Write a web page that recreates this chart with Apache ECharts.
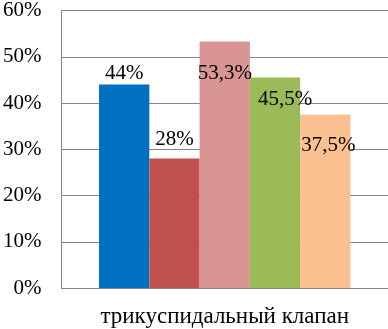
<!DOCTYPE html>
<html><head><meta charset="utf-8">
<script src="https://cdn.jsdelivr.net/npm/echarts@6/dist/echarts.min.js"></script>
<style>html,body{margin:0;padding:0;background:#fff}#c{width:388px;height:329px}</style>
</head><body><div id="c"></div>
<script>
var categories = ['трикуспидальный клапан'];
var values = [44, 28, 53.3, 45.5, 37.5];
var labelTexts = ['44%', '28%', '53,3%', '45,5%', '37,5%'];
var colors = ['#0070C0', '#C0504D', '#D99594', '#9BBB59', '#FAC090'];
var labelOffsets = [[0, 0], [0, -8], [0, 43], [10, 33], [3, 42]];
var yTicks = [0, 10, 20, 30, 40, 50, 60];

var font = '"Liberation Serif", "Times New Roman", serif';
var series = values.map(function (v, i) {
  return {
    type: 'bar',
    name: labelTexts[i],
    data: [v],
    barGap: '0%',
    barCategoryGap: '23%',
    itemStyle: { color: colors[i] },
    label: {
      show: true, position: 'top', distance: 0,
      offset: labelOffsets[i],
      formatter: labelTexts[i],
      fontFamily: font, fontSize: 21, lineHeight: 22, color: '#000'
    }
  };
});
var chart = echarts.init(document.getElementById('c'));
chart.setOption({
  animation: false,
  grid: { left: 61, right: 0, top: 9, bottom: 41 },
  xAxis: {
    type: 'category', data: categories,
    axisLine: { show: true, lineStyle: { color: '#868686', width: 1 } },
    axisTick: { show: false },
    axisLabel: { fontFamily: font, fontSize: 23, color: '#000', margin: 17 }
  },
  yAxis: {
    type: 'value', min: yTicks[0], max: yTicks[yTicks.length - 1], interval: 10,
    axisLine: { show: true, lineStyle: { color: '#868686', width: 1 } },
    axisTick: { show: false },
    splitLine: { show: true, lineStyle: { color: '#868686', width: 1 } },
    axisLabel: { formatter: '{value}%', fontFamily: font, fontSize: 21, color: '#000', margin: 20 }
  },
  series: series
});
</script></body></html>
